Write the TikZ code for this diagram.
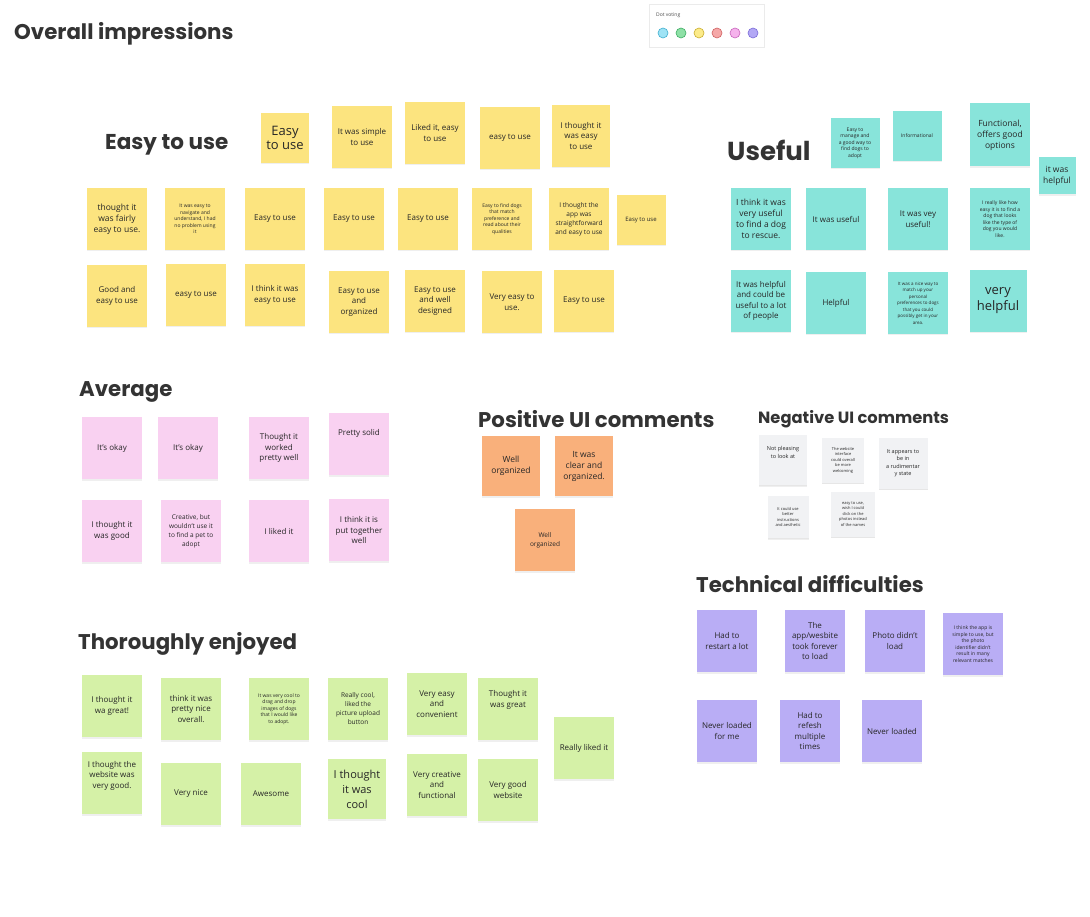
\documentclass[tikz,border=0pt]{standalone}
\usepackage{fontspec}
\setmainfont{Open Sans}
\newfontfamily\headfont{Poppins}
\usetikzlibrary{shadows}
\definecolor{yel}{HTML}{FCE47F}
\definecolor{tea}{HTML}{88E4DA}
\definecolor{pnk}{HTML}{F9D1F1}
\definecolor{org}{HTML}{F9B07B}
\definecolor{grn}{HTML}{D5F1A7}
\definecolor{prp}{HTML}{B9ADF5}
\definecolor{gry}{HTML}{F1F2F4}
\definecolor{ink}{HTML}{333333}

\begin{document}
\begin{tikzpicture}[x=1pt, y=-1pt,
  note/.style={align=center, inner sep=1pt, minimum width=60pt, minimum height=62pt,
    font=\fontsize{8}{10.5}\selectfont, text=black!85,
    drop shadow={opacity=0.12, shadow xshift=0pt, shadow yshift=-1.5pt}},
  sm/.style={font=\fontsize{5}{6.5}\selectfont},
  md/.style={font=\fontsize{8.5}{11}\selectfont},
  big/.style={font=\fontsize{13}{16}\selectfont},
  ynote/.style={note, fill=yel},
  tnote/.style={note, fill=tea},
  pnote/.style={note, fill=pnk},
  onote/.style={note, fill=org},
  gnote/.style={note, fill=grn},
  vnote/.style={note, fill=prp},
  enote/.style={note, fill=gry, minimum width=46pt, minimum height=48pt,
    drop shadow={opacity=0.08, shadow xshift=0pt, shadow yshift=-1pt}},
  head/.style={anchor=west, inner sep=0pt, yshift=-3pt, text=ink, font=\headfont\bfseries\fontsize{21.3}{25}\selectfont}
]
\useasboundingbox[fill=white] (0,0) rectangle (1090,917);

% titel en dot voting
\node[head] (overall) at (14,31) {Overall impressions};
\node[draw=black!8, fill=white, minimum width=115pt, minimum height=43pt, inner sep=0pt] (vote) at (707,26) {};
\node[anchor=west, inner sep=0pt, font=\fontsize{5}{6}\selectfont, text=black!70] (votelbl) at (656,15) {Dot voting};
\foreach \c/\d [count=\i] in {9FE3F5/3FAFD0, 8EE0A6/3DAE63, FCEB8A/C9AE2E, F5A8A8/D06060, F5B3EC/C864BC, B3A8F5/7A6AD8}{
  \definecolor{dotf}{HTML}{\c}\definecolor{dotd}{HTML}{\d}
  \node[circle, fill=dotf, draw=dotd, line width=0.6pt, minimum size=10pt, inner sep=0pt] (dot\i) at (645+18*\i,33) {};
}

% Easy to use
\node[head, font=\headfont\bfseries\fontsize{21.5}{25}\selectfont] (easy) at (105,142) {Easy to use};
\node[ynote, big, minimum width=48pt, minimum height=50pt] (e1) at (285,138) {Easy\\[-2pt]to use};
\node[ynote] (e2) at (362,137) {It was simple\\to use};
\node[ynote] (e3) at (435,133) {Liked it, easy\\to use};
\node[ynote] (e4) at (510,138) {easy to use};
\node[ynote, minimum width=58pt] (e5) at (581,136) {I thought it\\was easy\\to use};
\node[ynote, md] (e6) at (117,219) {thought it\\was fairly\\easy to use.};
\node[ynote, sm] (e7) at (195,219) {It was easy to\\navigate and\\understand, I had\\no problem using\\it};
\node[ynote] (e8) at (275,219) {Easy to use};
\node[ynote] (e9) at (354,219) {Easy to use};
\node[ynote] (e10) at (428,219) {Easy to use};
\node[ynote, sm] (e11) at (502,219) {Easy to find dogs\\that match\\preference and\\read about their\\qualities};
\node[ynote, font=\fontsize{6.5}{9}\selectfont] (e12) at (579,219) {I thought the\\app was\\straightforward\\and easy to use};
\node[ynote, font=\fontsize{6}{8}\selectfont, minimum width=49pt, minimum height=50pt] (e13) at (641,220) {Easy to use};
\node[ynote] (e14) at (117,296) {Good and\\easy to use};
\node[ynote] (e15) at (196,295) {easy to use};
\node[ynote] (e16) at (275,295) {I think it was\\easy to use};
\node[ynote] (e17) at (359,302) {Easy to use\\and\\organized};
\node[ynote] (e18) at (435,301) {Easy to use\\and well\\designed};
\node[ynote] (e19) at (512,302) {Very easy to\\use.};
\node[ynote] (e20) at (584,301) {Easy to use};

% Useful
\node[head, font=\headfont\bfseries\fontsize{26}{30}\selectfont] (useful) at (727,147) {Useful};
\node[tnote, sm, minimum width=49pt, minimum height=50pt] (u1) at (855,143) {Easy to\\manage and\\a good way to\\find dogs to\\adopt};
\node[tnote, sm, minimum width=49pt, minimum height=50pt] (u2) at (917,136) {Informational};
\node[tnote, md, minimum height=63pt] (u3) at (1000,135) {Functional,\\offers good\\options};
\node[tnote, md, minimum width=37pt, minimum height=37pt] (u4) at (1057,176) {it was\\helpful};
\node[tnote, md] (u5) at (761,219) {I think it was\\very useful\\to find a dog\\to rescue.};
\node[tnote] (u6) at (836,219) {It was useful};
\node[tnote] (u7) at (918,219) {It was vey\\useful!};
\node[tnote, sm] (u8) at (1000,219) {I really like how\\easy it is to find a\\dog that looks\\like the type of\\dog you would\\like.};
\node[tnote] (u9) at (761,301) {It was helpful\\and could be\\useful to a lot\\of people};
\node[tnote] (u10) at (836,303) {Helpful};
\node[tnote, font=\fontsize{4.5}{6.5}\selectfont] (u11) at (918,303) {It was a nice way to\\match up your\\personal\\preferences to dogs\\that you could\\possibly get in your\\area.};
\node[tnote, big, minimum width=57pt] (u12) at (998,301) {very\\helpful};

% Average
\node[head] (avg) at (79,389) {Average};
\node[pnote] (a1) at (112,448) {It's okay};
\node[pnote] (a2) at (188,448) {It's okay};
\node[pnote] (a3) at (279,448) {Thought it\\worked\\pretty well};
\node[pnote] (a4) at (359,444) {Pretty solid\\[12pt]};
\node[pnote] (a5) at (112,531) {I thought it\\was good};
\node[pnote, font=\fontsize{6.5}{9}\selectfont] (a6) at (191,531) {Creative, but\\wouldn't use it\\to find a pet to\\adopt};
\node[pnote] (a7) at (279,531) {I liked it};
\node[pnote] (a8) at (359,530) {I think it is\\put together\\well};

% Positive UI comments
\node[head] (pos) at (478,416) {Positive UI comments};
\node[onote, md, minimum width=58pt, minimum height=60pt] (p1) at (511,466) {Well\\organized};
\node[onote, md, minimum width=58pt, minimum height=60pt] (p2) at (584,466) {It was\\clear and\\organized.};
\node[onote, font=\fontsize{6.5}{9}\selectfont] (p3) at (545,540) {Well\\organized};

% Negative UI comments
\node[head, font=\headfont\bfseries\fontsize{16.3}{19}\selectfont] (neg) at (758,416) {Negative UI comments};
\node[enote, font=\fontsize{5.5}{7.5}\selectfont, minimum width=48pt, minimum height=50pt] (n1) at (783,460) {Not pleasing\\to look at\\[8pt]};
\node[enote, font=\fontsize{4}{5.5}\selectfont, minimum width=42pt, minimum height=45pt] (n2) at (843,460) {The website\\interface\\could overall\\be more\\welcoming};
\node[enote, font=\fontsize{5.5}{7.5}\selectfont, minimum width=49pt, minimum height=51pt] (n3) at (903,463) {It appears to\\be in\\a rudimentar\\y state};
\node[enote, font=\fontsize{4}{5.5}\selectfont, minimum width=41pt, minimum height=42pt] (n4) at (788,517) {It could use\\better\\instructions\\and aesthetic};
\node[enote, font=\fontsize{4}{5.5}\selectfont, minimum width=44pt, minimum height=45pt] (n5) at (853,514) {easy to use,\\wish I could\\click on the\\photos instead\\of the names};

% Technical difficulties
\node[head] (tech) at (696,581) {Technical difficulties};
\node[vnote] (t1) at (727,641) {Had to\\restart a lot};
\node[vnote] (t2) at (815,641) {The\\app/wesbite\\took forever\\to load};
\node[vnote] (t3) at (895,641) {Photo didn't\\load};
\node[vnote, sm] (t4) at (973,644) {I think the app is\\simple to use, but\\the photo\\identifier didn't\\result in many\\relevant matches};
\node[vnote] (t5) at (727,731) {Never loaded\\for me};
\node[vnote] (t6) at (810,731) {Had to\\refesh\\multiple\\times};
\node[vnote] (t7) at (892,731) {Never loaded};

% Thoroughly enjoyed
\node[head] (enj) at (78,641) {Thoroughly enjoyed};
\node[gnote] (g1) at (112,706) {I thought it\\wa great!};
\node[gnote] (g2) at (191,709) {think it was\\pretty nice\\overall.};
\node[gnote, sm] (g3) at (279,709) {It was very cool to\\drag and drop\\images of dogs\\that I would like\\to adopt.};
\node[gnote, font=\fontsize{6.5}{9}\selectfont] (g4) at (358,709) {Really cool,\\liked the\\picture upload\\button};
\node[gnote] (g5) at (437,704) {Very easy\\and\\convenient};
\node[gnote] (g6) at (508,709) {Thought it\\was great\\[10pt]};
\node[gnote] (g7) at (584,748) {Really liked it};
\node[gnote] (g8) at (112,783) {I thought the\\website was\\very good.\\[6pt]};
\node[gnote] (g9) at (191,794) {Very nice};
\node[gnote] (g10) at (271,794) {Awesome};
\node[gnote, font=\fontsize{11}{15}\selectfont, minimum width=58pt, minimum height=60pt] (g11) at (357,789) {I thought\\it was\\cool};
\node[gnote] (g12) at (437,785) {Very creative\\and\\functional};
\node[gnote] (g13) at (508,790) {Very good\\website};
\end{tikzpicture}
\end{document}
